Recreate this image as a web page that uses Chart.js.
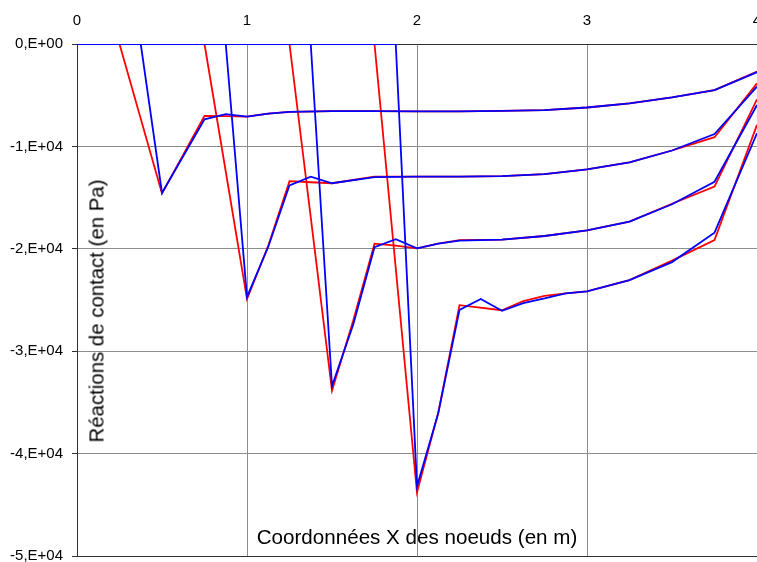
<!DOCTYPE html>
<html>
<head>
<meta charset="utf-8">
<script src="https://cdn.jsdelivr.net/npm/chart.js@4/dist/chart.umd.min.js"></script>
<style>
  html, body { margin: 0; padding: 0; background: #fff; overflow: hidden; width: 757px; height: 562px; }
  #wrap { position: absolute; left: 0; top: 0; width: 800px; height: 600px; }
  .lbl { position: absolute; font-family: "Liberation Sans", Arial, sans-serif; color: #000; white-space: nowrap; }
  #xt { font-size: 20.6px; left: 417px; top: 537px; transform: translate(-50%, -50%); }
  #yt { font-size: 20.4px; left: 97px; top: 311px; transform: translate(-50%, -50%) rotate(-90deg); }
</style>
</head>
<body>
<div id="wrap"><canvas id="c" width="800" height="600"></canvas></div>
<div class="lbl" id="xt">Coordonnées X des noeuds (en m)</div>
<div class="lbl" id="yt">Réactions de contact (en Pa)</div>
<script>
const N = null;
// node coordinates (m)
const xNodes = [0, 0.25, 0.375, 0.5, 0.625, 0.75, 0.875, 1, 1.125, 1.25, 1.375, 1.5, 1.625, 1.75, 1.875, 2, 2.125, 2.25, 2.375, 2.5, 2.625, 2.75, 2.875, 3, 3.25, 3.5, 3.75, 4];
// contact reactions (Pa); null = no node drawn in that series
const red1  = [0, 0, N, -14600, N, -7030, -7050, -7100, -6800, -6620, N, -6560, N, -6550, N, -6580, N, -6580, N, -6540, N, -6450, N, -6200, -5800, -5220, -4500, -2700];
const blue1 = [0, 0, 0, -14550, N, -7350, -6850, -7100, -6800, -6620, N, -6560, N, -6550, N, -6580, N, -6580, N, -6540, N, -6450, N, -6200, -5800, -5220, -4500, -2750];
const red2  = [0, N, N, N, N, 0, N, -24900, -19700, -13400, -13500, -13600, N, -12950, N, -12950, N, -12950, N, -12900, N, -12700, N, -12250, -11550, -10400, -9100, -3850];
const blue2 = [0, N, N, N, N, N, 0, -24700, -19800, -13800, -12950, -13600, N, -13000, N, -12950, N, -12950, N, -12900, N, -12700, N, -12250, -11550, -10400, -8800, -4170];
const red3  = [0, N, N, N, N, N, N, N, N, 0, N, -33850, -27000, -19500, -19700, -19950, -19500, -19150, N, -19100, N, -18750, N, -18200, -17350, -15600, -13930, -5400];
const blue3 = [0, N, N, N, N, N, N, N, N, N, 0, -33400, -27400, -19850, -19070, -19950, -19500, -19200, N, -19100, N, -18750, N, -18200, -17350, -15650, -13450, -5960];
const red4  = [0, N, N, N, N, N, N, N, N, N, N, N, N, 0, N, -43800, -36000, -25500, N, -26000, -25100, -24600, -24350, -24150, -23050, -21150, -19140, -7900];
const blue4 = [0, N, N, N, N, N, N, N, N, N, N, N, N, N, 0, -43200, -36060, -25970, -24900, -26050, -25300, -24850, -24350, -24150, -23050, -21300, -18420, -8720];
const yTickLabels = ['0,E+00', '-1,E+04', '-2,E+04', '-3,E+04', '-4,E+04', '-5,E+04'];
const xTickLabels = ['0', '1', '2', '3', '4'];

function pts(vals) {
  return xNodes.map((x, i) => ({ x: x, y: vals[i] })).filter(p => p.y !== null);
}
function ds(vals, color) {
  return { data: pts(vals), borderColor: color, backgroundColor: color, borderWidth: 1.8, pointRadius: 0, tension: 0, fill: false };
}

const datasets = [
  ds(blue4, '#0000FF'), ds(blue3, '#0000FF'), ds(blue2, '#0000FF'), ds(blue1, '#0000FF'),
  ds(red4, '#FF0000'), ds(red3, '#FF0000'), ds(red2, '#FF0000'), ds(red1, '#FF0000')
];

new Chart(document.getElementById('c'), {
  type: 'line',
  data: { datasets: datasets },
  options: {
    responsive: false,
    devicePixelRatio: 1,
    animation: false,
    layout: { padding: { left: 0, top: 0, right: 43, bottom: 44 } },
    plugins: { legend: { display: false }, tooltip: { enabled: false } },
    scales: {
      x: {
        type: 'linear', position: 'top', min: 0, max: 4,
        afterFit: s => { s.height = 44; },
        afterBuildTicks: s => { s.ticks = xTickLabels.map(t => ({ value: Number(t) })); },
        ticks: { stepSize: 1, padding: 14, color: '#000', font: { family: 'Liberation Sans', size: 15 },
                 callback: (v, i) => xTickLabels[i] },
        grid: { color: '#8c8c8c', lineWidth: 1, drawTicks: false },
        border: { color: '#303030', width: 1 }
      },
      y: {
        type: 'linear', min: -50000, max: 0,
        afterFit: s => { s.width = 77; },
        afterBuildTicks: s => { s.ticks = yTickLabels.map((t, i) => ({ value: -10000 * i })); },
        ticks: { padding: 9, color: '#000', font: { family: 'Liberation Sans', size: 15 },
                 callback: (v) => yTickLabels[Math.round(-v / 10000)] },
        grid: { color: c => (c.tick && c.tick.value === -50000 ? '#303030' : '#8c8c8c'), lineWidth: 1, tickLength: 5, tickColor: '#303030' },
        border: { color: '#303030', width: 1 }
      }
    }
  }
});
</script>
</body>
</html>
